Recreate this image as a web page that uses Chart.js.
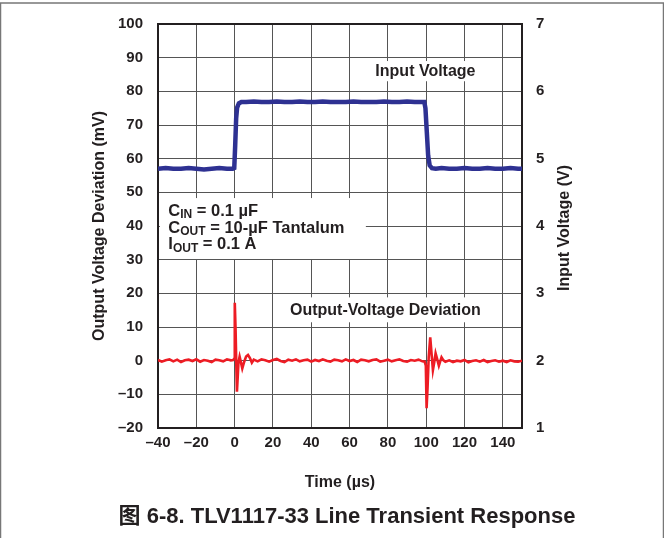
<!DOCTYPE html>
<html>
<head>
<meta charset="utf-8">
<script src="https://cdn.jsdelivr.net/npm/chart.js"></script>
<style>
  body { margin: 0; background: #fff; }
  canvas { display: block; }
</style>
</head>
<body>
<canvas id="transitorio" width="664" height="538"></canvas>
<script>
// Input voltage (V, right axis)
const tiempoEntrada = [-40, -36, -32, -28, -24, -20, -16, -12, -8, -4, -1, -0.2, 0.3, 0.8, 1.3, 2.2, 3.5, 6, 10, 14, 18, 22, 26, 30, 34, 38, 42, 46, 50, 54, 58, 62, 66, 70, 74, 78, 82, 86, 90, 94, 97, 99, 99.6, 100.3, 101, 101.8, 103, 105, 108, 112, 116, 120, 124, 128, 132, 136, 140, 144, 148, 150];
const voltajeEntrada = [4.85, 4.86, 4.85, 4.85, 4.86, 4.85, 4.84, 4.85, 4.86, 4.85, 4.85, 4.86, 5.2, 5.6, 5.76, 5.82, 5.84, 5.84, 5.85, 5.84, 5.84, 5.85, 5.84, 5.84, 5.85, 5.84, 5.84, 5.85, 5.84, 5.84, 5.84, 5.85, 5.84, 5.84, 5.84, 5.85, 5.84, 5.84, 5.85, 5.84, 5.84, 5.84, 5.75, 5.4, 5.05, 4.9, 4.86, 4.85, 4.86, 4.85, 4.85, 4.86, 4.85, 4.85, 4.86, 4.85, 4.85, 4.86, 4.85, 4.85];

// Output voltage deviation (mV, left axis)
const tiempoSalida = [-40, -38, -36, -34, -32, -30, -28, -26, -24, -22, -20, -18, -16, -14, -12, -10, -8, -6, -4, -2,
  -0.8, -0.2, 0, 0.15, 0.5, 0.9, 1.2, 1.6, 2, 2.6, 3.3, 4, 5, 6, 7, 8, 9,
  10, 12, 14, 16, 18, 20, 22, 24, 26, 28, 30, 32, 34, 36, 38, 40, 42, 44, 46, 48, 50, 52, 54, 56, 58, 60, 62, 64, 66, 68, 70, 72, 74, 76, 78, 80, 82, 84, 86, 88, 90, 92, 94, 96, 98,
  99.2, 99.8, 100.2, 100.7, 101.3, 102.1, 102.8, 103.5, 104.2, 104.9, 105.8, 106.6, 107.3, 108, 109,
  110, 112, 114, 116, 118, 120, 122, 124, 126, 128, 130, 132, 134, 136, 138, 140, 142, 144, 146, 148, 150];
const desviacionSalida = [0.2, -0.3, 0.1, 0.4, -0.2, 0.3, -0.4, 0.1, 0.3, -0.1, 0.4, -0.3, 0.2, 0.0, -0.4, 0.3, 0.1, -0.2, 0.4, 0.1,
  0.2, 0.6, 10, 17.2, 9, -2, -9.2, -5, -0.5, 1.2, -0.5, -2.3, -0.3, 1.2, 1.7, 0.8, -0.6,
  0.3, -0.2, 0.4, 0.1, -0.3, 0.2, 0.5, -0.1, -0.4, 0.3, 0.0, 0.4, -0.2, 0.1, 0.3, -0.3, 0.2, -0.1, 0.4, 0.0, -0.3, 0.3, 0.1, -0.2, 0.4, -0.1, 0.2, -0.4, 0.3, 0.1, -0.2, 0.2, 0.4, -0.3, 0.0, 0.3, -0.2, 0.1, 0.4, -0.1, -0.3, 0.2, 0.0, 0.3, -0.2,
  -0.3, -1.5, -14.1, -8, 1, 6.9, 2, -2.8, -0.5, 2.2, 0.3, -1.5, -0.2, 1.0, 0.1,
  -0.3, 0.1, -0.4, 0.0, -0.2, 0.2, -0.5, -0.1, 0.1, -0.3, 0.2, -0.4, -0.1, 0.1, -0.3, 0.0, -0.4, 0.1, -0.2, -0.3, 0.0];

const negro = '#231f20';
const fuente = '"Liberation Sans", Arial, "Noto Sans CJK SC", sans-serif';
Chart.defaults.font.family = fuente;
Chart.defaults.color = negro;

const guion = v => String(v).replace('-', '\u2013');

// white boxes and text labels over the grid
const etiquetas = {
  id: 'etiquetas',
  beforeDatasetsDraw(chart) {
    const c = chart.ctx, x = chart.scales.x, y = chart.scales.y;
    const caja = (x0, y0, x1, y1) => {
      c.fillRect(x.getPixelForValue(x0), y.getPixelForValue(y0), x.getPixelForValue(x1) - x.getPixelForValue(x0), y.getPixelForValue(y1) - y.getPixelForValue(y0));
    };
    c.save();
    c.fillStyle = '#fff';
    caja(70, 89, 130, 83);
    caja(25.5, 18.8, 132, 11.4);
    caja(-39, 48.3, 68.5, 30.2);

    c.fillStyle = negro;
    c.textBaseline = 'middle';
    c.textAlign = 'center';
    c.font = 'bold 16px ' + fuente;
    c.fillText('Input Voltage', x.getPixelForValue(99.6), y.getPixelForValue(86));
    c.fillText('Output-Voltage Deviation', x.getPixelForValue(78.7), y.getPixelForValue(14.8));

    const lineas = [
      [['C', 0], ['IN', 1], [' = 0.1 \u00b5F', 0]],
      [['C', 0], ['OUT', 1], [' = 10-\u00b5F Tantalum', 0]],
      [['I', 0], ['OUT', 1], [' = 0.1 A', 0]]
    ];
    const filas = [44.3, 39.4, 34.4];
    c.textAlign = 'left';
    lineas.forEach((partes, i) => {
      let px = x.getPixelForValue(-34.6);
      const py = y.getPixelForValue(filas[i]);
      partes.forEach(([txt, sub]) => {
        c.font = sub ? 'bold 12px ' + fuente : 'bold 16.5px ' + fuente;
        c.fillText(txt, px, sub ? py + 3.5 : py);
        px += c.measureText(txt).width;
      });
    });
    c.restore();
  },
  afterDraw(chart) {
    const c = chart.ctx, area = chart.chartArea;
    c.save();
    c.strokeStyle = '#777';
    c.lineWidth = 1.5;
    c.strokeRect(0.5, 3, 663, 545);
    c.fillStyle = negro;
    c.textAlign = 'center';
    c.textBaseline = 'middle';
    // right axis title, reading bottom to top
    c.save();
    c.translate(565, (area.top + area.bottom) / 2 + 2);
    c.rotate(-Math.PI / 2);
    c.font = 'bold 16px ' + fuente;
    c.fillText('Input Voltage (V)', 0, 0);
    c.restore();
    c.font = 'bold 22px ' + fuente;
    c.fillText('\u56fe 6-8. TLV1117-33 Line Transient Response', 347, 517);
    c.restore();
  }
};

new Chart(document.getElementById('transitorio'), {
  type: 'line',
  data: {
    datasets: [
      {
        label: 'Output-Voltage Deviation',
        data: tiempoSalida.map((t, i) => ({ x: t, y: desviacionSalida[i] })),
        yAxisID: 'y',
        borderColor: '#ed1c24',
        borderWidth: 2.6,
        pointRadius: 0,
        tension: 0
      },
      {
        label: 'Input Voltage',
        data: tiempoEntrada.map((t, i) => ({ x: t, y: voltajeEntrada[i] })),
        yAxisID: 'y2',
        borderColor: '#2e3192',
        borderWidth: 4.5,
        pointRadius: 0,
        tension: 0
      }
    ]
  },
  options: {
    responsive: false,
    animation: false,
    layout: { padding: { top: 24, left: 0, right: 0, bottom: 0 } },
    plugins: {
      legend: { display: false },
      tooltip: { enabled: false }
    },
    scales: {
      x: {
        type: 'linear',
        position: 'bottom',
        min: -40,
        max: 150,
        afterFit: s => { s.height = 110; },
        ticks: { stepSize: 20, includeBounds: false, padding: 6, font: { size: 15, weight: 'bold' }, callback: guion, maxRotation: 0 },
        grid: { color: '#555', lineWidth: 1, drawTicks: false },
        border: { color: negro, width: 2 },
        title: { display: true, text: 'Time (\u00b5s)', font: { size: 16, weight: 'bold' }, padding: { top: 0, bottom: 46 } }
      },
      y: {
        position: 'left',
        min: -20,
        max: 100,
        afterFit: s => { s.width = 158; },
        ticks: { stepSize: 10, padding: 15, font: { size: 15, weight: 'bold' }, callback: guion },
        grid: {
          color: ctx => ctx.tick.value === 100 ? negro : '#555',
          lineWidth: ctx => ctx.tick.value === 100 ? 2 : 1,
          drawTicks: false
        },
        border: { color: negro, width: 2 },
        title: { display: true, text: 'Output Voltage Deviation (mV)', font: { size: 16, weight: 'bold' }, padding: { top: 90, bottom: 0 } }
      },
      y2: {
        position: 'right',
        min: 1,
        max: 7,
        afterFit: s => { s.width = 142; },
        ticks: { stepSize: 1, padding: 14, font: { size: 15, weight: 'bold' } },
        grid: { drawOnChartArea: false, drawTicks: false },
        border: { color: negro, width: 2 }
      }
    }
  },
  plugins: [etiquetas]
});
</script>
</body>
</html>
